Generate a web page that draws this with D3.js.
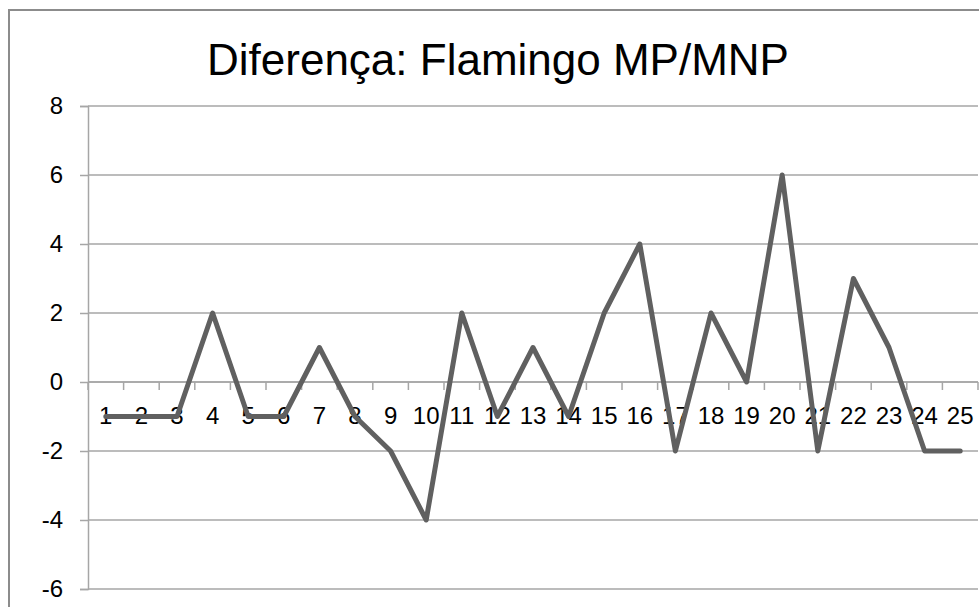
<!DOCTYPE html>
<html><head><meta charset="utf-8">
<script src="https://cdn.jsdelivr.net/npm/d3@7"></script>
<style>html,body{margin:0;padding:0;background:#fff;}</style>
</head><body>
<svg id="chart" width="979" height="607"></svg>
<script>
const title = "Diferença: Flamingo MP/MNP";
const categories = ["1","2","3","4","5","6","7","8","9","10","11","12","13","14","15","16","17","18","19","20","21","22","23","24","25"];
const values = [-1,-1,-1,2,-1,-1,1,-1,-2,-4,2,-1,1,-1,2,4,-2,2,0,6,-2,3,1,-2,-2];
const yTicks = [-6,-4,-2,0,2,4,6,8];

(function(){
const svg = d3.select("#chart");
const pL = 88, pR = 978, pT = 106, pB = 589;
const font = "'Liberation Sans', Arial, sans-serif";

// outer chart border
svg.append("rect").attr("x",9).attr("y",10).attr("width",1000).attr("height",700)
  .attr("fill","none").attr("stroke","#8c8c8c").attr("stroke-width",2);

const x = d3.scaleBand().domain(categories).range([pL,pR]).padding(0);
const y = d3.scaleLinear().domain([-6,8]).range([pB,pT]);

// gridlines
svg.append("g").selectAll("line").data(yTicks).join("line")
  .attr("x1",pL).attr("x2",pR)
  .attr("y1",d=>y(d)).attr("y2",d=>y(d))
  .attr("stroke","#a6a6a6").attr("stroke-width",1.5);

// y axis
const yAxis = svg.append("g").attr("transform",`translate(${pL},0)`)
  .call(d3.axisLeft(y).tickValues(yTicks).tickSize(8).tickPadding(17).tickFormat(d=>d<0?"-"+Math.abs(d):d));
yAxis.select(".domain").attr("stroke","#a6a6a6").attr("stroke-width",1.5);
yAxis.selectAll(".tick line").attr("stroke","#a6a6a6").attr("stroke-width",1.5);
yAxis.selectAll("text").attr("font-family",font).attr("font-size",24).attr("fill","#000");

// x axis at y=0 (ticks at band boundaries)
const xg = svg.append("g");
xg.append("line").attr("x1",pL).attr("x2",pR).attr("y1",y(0)).attr("y2",y(0))
  .attr("stroke","#a6a6a6").attr("stroke-width",1.5);
const bounds = categories.map(c=>x(c)).concat([pR]);
xg.selectAll("line.t").data(bounds).join("line").attr("class","t")
  .attr("x1",d=>d).attr("x2",d=>d).attr("y1",y(0)).attr("y2",y(0)+8)
  .attr("stroke","#a6a6a6").attr("stroke-width",1.5);
xg.selectAll("text").data(categories).join("text")
  .attr("x",d=>x(d)+x.bandwidth()/2).attr("y",y(0)+42)
  .attr("text-anchor","middle").attr("font-family",font).attr("font-size",24).attr("fill","#000")
  .text(d=>d);

// line
const line = d3.line().x((d,i)=>x(categories[i])+x.bandwidth()/2).y(d=>y(d));
svg.append("path").datum(values).attr("d",line)
  .attr("fill","none").attr("stroke","#606060").attr("stroke-width",5)
  .attr("stroke-linejoin","round").attr("stroke-linecap","round");

// title
svg.append("text").attr("x",498).attr("y",75).attr("text-anchor","middle")
  .attr("font-family",font).attr("font-size",44).attr("fill","#000").text(title);
})();
</script>
</body></html>
